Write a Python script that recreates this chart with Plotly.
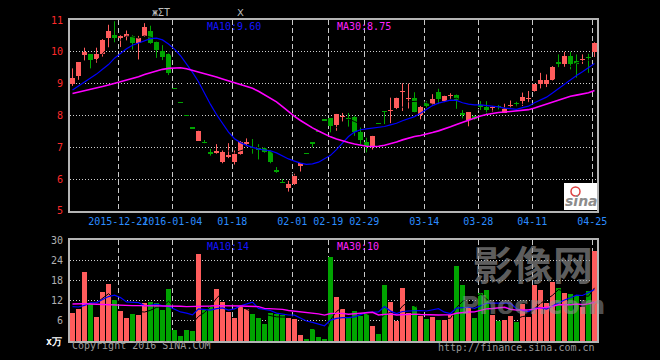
import plotly.graph_objects as go

# ---------------- data ----------------
tick_idx = [8, 17, 27, 37, 43, 49, 59, 68, 77, 87]
tick_labels = ['2015-12-21', '2016-01-04', '01-18', '02-01', '02-19',
               '02-29', '03-14', '03-28', '04-11', '04-25']

opens = [8.98, 9.24, 9.89, 9.92, 9.76, 9.92, 10.42, 10.52, 10.45, 10.46,
         10.51, 10.28, 10.49, 10.67, 10.31, 10.02, 9.92, 8.84, 8.40, 7.99,
         7.59, 7.21, 7.14, 6.86, 6.82, 6.53, 6.70, 6.55, 6.80, 7.12,
         7.01, 6.98, 6.98, 6.87, 6.26, 5.89, 5.72, 5.84, 6.40, 6.79,
         7.12, 7.47, 7.84, 7.91, 7.71, 7.94, 7.92, 7.94, 7.49, 7.17,
         7.00, 7.73, 8.12, 8.15, 8.22, 8.73, 8.52, 8.54, 8.02, 8.40,
         8.35, 8.74, 8.44, 8.60, 8.65, 8.05, 7.86, 7.99, 8.30, 8.28,
         8.24, 8.29, 8.09, 8.31, 8.37, 8.44, 8.52, 8.77, 8.98, 9.00,
         9.13, 9.69, 9.62, 9.86, 9.71, 9.75, 9.82, 10.00]
highs = [9.48, 9.67, 10.13, 9.93, 10.13, 10.40, 10.85, 10.96, 10.52, 10.67,
         10.52, 10.50, 10.90, 10.82, 10.32, 10.21, 9.95, 8.84, 8.40, 7.99,
         7.59, 7.52, 7.23, 6.95, 7.10, 6.90, 7.13, 6.90, 7.20, 7.28,
         7.26, 7.10, 7.00, 6.90, 6.38, 6.00, 5.95, 6.17, 6.50, 6.79,
         7.12, 7.47, 7.84, 7.92, 8.05, 8.08, 8.08, 7.99, 7.62, 7.30,
         7.36, 7.73, 8.12, 8.56, 8.56, 9.01, 9.00, 8.73, 8.30, 8.45,
         8.67, 8.84, 8.62, 8.70, 8.66, 8.17, 8.10, 8.00, 8.45, 8.45,
         8.30, 8.33, 8.37, 8.47, 8.43, 8.72, 8.77, 8.99, 9.34, 9.29,
         9.55, 9.92, 10.00, 10.00, 9.92, 9.92, 9.94, 10.30]
lows = [8.93, 9.12, 9.73, 9.48, 9.66, 9.85, 10.12, 10.30, 10.15, 10.36,
        10.07, 9.76, 10.47, 10.25, 9.81, 9.74, 9.27, 8.84, 8.40, 7.99,
        7.59, 7.20, 7.13, 6.74, 6.80, 6.50, 6.66, 6.46, 6.77, 7.03,
        6.80, 6.62, 6.83, 6.50, 6.20, 5.88, 5.61, 5.82, 6.24, 6.79,
        7.00, 7.47, 7.84, 7.47, 7.52, 7.80, 7.65, 7.36, 7.10, 6.84,
        6.93, 7.73, 7.73, 7.76, 8.20, 8.14, 8.22, 8.10, 7.88, 8.25,
        8.30, 8.35, 8.42, 8.51, 8.21, 7.91, 7.66, 7.86, 8.17, 8.04,
        8.11, 8.18, 8.08, 8.24, 8.28, 8.30, 8.41, 8.75, 8.85, 8.89,
        9.10, 9.52, 9.53, 9.45, 9.19, 9.62, 9.34, 9.84]
closes = [9.19, 9.67, 10.00, 9.74, 9.92, 10.38, 10.64, 10.42, 10.48, 10.55,
          10.28, 10.42, 10.77, 10.28, 10.07, 9.84, 9.32, 8.84, 8.40, 7.99,
          7.59, 7.52, 7.13, 6.78, 6.89, 6.86, 6.77, 6.79, 7.16, 7.14,
          6.99, 6.93, 6.86, 6.53, 6.24, 5.88, 5.84, 6.11, 6.50, 6.79,
          7.12, 7.47, 7.84, 7.68, 8.04, 7.96, 7.90, 7.49, 7.24, 7.03,
          7.36, 7.73, 8.12, 8.18, 8.56, 8.76, 8.55, 8.12, 8.27, 8.31,
          8.51, 8.51, 8.60, 8.62, 8.48, 8.03, 8.10, 7.88, 8.28, 8.18,
          8.26, 8.27, 8.24, 8.33, 8.36, 8.58, 8.55, 8.98, 9.10, 9.10,
          9.53, 9.62, 9.86, 9.62, 9.63, 9.77, 9.80, 10.28]
volumes = [8.4, 9.5, 20.4, 11.0, 7.2, 14.7, 17.0, 12.1, 9.0, 6.9,
           8.0, 7.8, 11.3, 11.6, 11.4, 9.2, 15.5, 3.2, 1.4, 3.2,
           2.9, 25.7, 9.2, 10.2, 15.5, 11.6, 8.7, 6.8, 10.4, 9.5,
           8.0, 6.8, 5.0, 8.2, 7.9, 7.7, 6.9, 6.5, 1.7, 0.7,
           3.7, 1.2, 0.7, 25.1, 13.2, 9.5, 7.0, 8.9, 7.5, 8.0,
           4.4, 2.0, 16.7, 11.6, 6.0, 15.6, 8.4, 10.4, 7.5, 6.5,
           7.2, 6.2, 6.2, 7.7, 22.2, 16.7, 9.7, 6.9, 14.2, 15.2,
           7.7, 6.0, 6.2, 7.5, 5.7, 11.0, 7.2, 16.7, 15.2, 11.4,
           17.4, 15.7, 14.2, 13.9, 13.5, 10.0, 14.9, 26.7]

# moving-average values before enough in-window history exists
ma10_head = [8.80, 8.92, 9.05, 9.18, 9.30, 9.45, 9.60, 9.80, 9.96]
ma30_head = [8.69, 8.73, 8.77, 8.81, 8.86, 8.91, 8.96, 9.01, 9.06, 9.11,
             9.16, 9.22, 9.29, 9.35, 9.40, 9.45, 9.48, 9.50, 9.50, 9.47,
             9.42, 9.38, 9.33, 9.28, 9.21, 9.15, 9.09, 9.04, 8.99]
vma10_head = [10.2, 10.1, 10.6, 11.3, 11.4, 12.3, 13.2, 13.6, 12.9]
vma30_head = [11.0, 11.1, 11.1, 11.0, 10.9, 10.8, 10.7, 10.7, 10.6, 10.6,
              10.5, 10.5, 10.5, 10.4, 10.4, 10.4, 10.4, 10.3, 10.3, 10.2,
              10.2, 10.3, 10.3, 10.4, 10.5, 10.5, 10.6, 10.5, 10.4]


def moving_avg(vals, w, head):
    out = list(head) + [None] * (w - 1 - len(head))
    for i in range(w - 1, len(vals)):
        out.append(sum(vals[i - w + 1:i + 1]) / w)
    return out


n = len(closes)
idx = list(range(n))
ma5 = moving_avg(closes, 5, [])
ma10 = moving_avg(closes, 10, ma10_head)
ma30 = moving_avg(closes, 30, ma30_head)
vma5 = moving_avg(volumes, 5, [])
vma10 = moving_avg(volumes, 10, vma10_head)
vma30 = moving_avg(volumes, 30, vma30_head)

RED = '#ff5c5c'
GREEN = '#00a400'
up = [c > o for o, c in zip(opens, closes)]

fig = go.Figure()

# wicks
for flag, col in ((True, RED), (False, GREEN)):
    wx, wy = [], []
    for i in idx:
        if up[i] == flag:
            wx += [i, i, None]
            wy += [lows[i], highs[i], None]
    fig.add_trace(go.Scatter(x=wx, y=wy, mode='lines', xaxis='x', yaxis='y',
                             line=dict(color=col, width=1), hoverinfo='skip'))

# bodies
for flag, col in ((True, RED), (False, GREEN)):
    bx, bb, bh = [], [], []
    for i in idx:
        if up[i] == flag:
            bx.append(i)
            bb.append(min(opens[i], closes[i]))
            bh.append(max(abs(closes[i] - opens[i]), 0.035))
    fig.add_trace(go.Bar(x=bx, y=bh, base=bb, width=0.83, marker_color=col,
                         marker_line_width=0, xaxis='x', yaxis='y'))

# price MAs
fig.add_trace(go.Scatter(x=idx, y=ma5, mode='lines', line=dict(color='#000000', width=1),
                         xaxis='x', yaxis='y'))
fig.add_trace(go.Scatter(x=idx, y=ma10, mode='lines', line=dict(color='#0000ff', width=1.2),
                         xaxis='x', yaxis='y'))
fig.add_trace(go.Scatter(x=idx, y=ma30, mode='lines', line=dict(color='#ff00ff', width=1.6),
                         xaxis='x', yaxis='y'))

# volume
fig.add_trace(go.Bar(x=idx, y=volumes, width=0.83,
                     marker_color=[RED if u else GREEN for u in up],
                     marker_line_width=0, xaxis='x2', yaxis='y2'))
fig.add_trace(go.Scatter(x=idx, y=vma5, mode='lines', line=dict(color='#000000', width=1),
                         xaxis='x2', yaxis='y2'))
fig.add_trace(go.Scatter(x=idx, y=vma10, mode='lines', line=dict(color='#0000ff', width=1.2),
                         xaxis='x2', yaxis='y2'))
fig.add_trace(go.Scatter(x=idx, y=vma30, mode='lines', line=dict(color='#ff00ff', width=1.4),
                         xaxis='x2', yaxis='y2'))

MONO = 'DejaVu Sans Mono'
BORDER = '#b4b4b4'
tickpos = [t - 0.37 for t in tick_idx]

common_x = dict(range=[-0.4167, 87.4167], tickvals=tickpos, showgrid=True,
                gridcolor='#c8c8c8', griddash='5px,3px', gridwidth=1,
                showline=True, mirror=True, linecolor=BORDER, linewidth=2,
                zeroline=False, ticks='', fixedrange=True, automargin=False,
                tickangle=0)

common_y = dict(showgrid=True, gridcolor='#d0d0d0', griddash='1px,2px',
                showline=True, mirror=True, linecolor=BORDER, linewidth=2,
                zeroline=False, ticks='', ticklabelstandoff=3, automargin=False,
                fixedrange=True)

fig.update_layout(
    width=660, height=360,
    margin=dict(l=70, r=63, t=20, b=19, autoexpand=False),
    paper_bgcolor='#000000', plot_bgcolor='#000000',
    showlegend=False, barmode='overlay', bargap=0, hovermode=False,
    xaxis=dict(domain=[0, 1], anchor='y', ticktext=tick_labels,
               tickfont=dict(family=MONO, size=10, color='#2b8cff'),
               ticklabelstandoff=0, **common_x),
    xaxis2=dict(domain=[0, 1], anchor='y2', matches='x', showticklabels=False, **common_x),
    yaxis=dict(domain=[0.405, 1], anchor='x', range=[5, 11], tickvals=[5, 6, 7, 8, 9, 10, 11],
               tickfont=dict(family=MONO, size=10, color='#ff2a2a'), **common_y),
    yaxis2=dict(domain=[0, 0.3146], anchor='x2', range=[0, 30], tickvals=[6, 12, 18, 24, 30],
                tickfont=dict(family=MONO, size=10, color='#b0b0b0'), **common_y),
)


def px_x(px):
    return (px - 70) / 527


def px_y(py):
    return (341 - py) / 321


ann = []


def text(s, x, y, color, size=10, xanchor='left', family=MONO, **kw):
    ann.append(dict(text=s, x=px_x(x), y=px_y(y), xref='paper', yref='paper',
                    xanchor=xanchor, yanchor='middle', showarrow=False,
                    font=dict(family=family, size=size, color=color), **kw))


text('MA10:9.60', 205, 26, '#1414ff')
text('MA30:8.75', 335, 26, '#ff22ff')
text('MA10:14', 205, 246, '#1414ff')
text('MA30:10', 335, 246, '#ff22ff')
text('Copyright 2016 SINA.COM', 70, 346, '#9a9a9a')
text('http://finance.sina.com.cn', 597, 347, '#9a9a9a', xanchor='right')
text('<b>x万</b>', 64, 342, '#ffffff', size=10, xanchor='right')
text('жΣТ', 161, 12, '#bdbdbd', size=10, xanchor='center')
text('Ⅹ', 240, 12, '#bdbdbd', size=10, xanchor='center')

# watermark of the source picture
text('<b>影像网</b>', 533, 263, 'rgba(150,150,150,0.65)', size=40, xanchor='center',
     family='Noto Sans CJK SC')
text('<b>Phocr.com</b>', 533, 305, 'rgba(150,150,150,0.55)', size=25, xanchor='center',
     family='DejaVu Sans')

# sina logo box
fig.add_shape(type='rect', xref='paper', yref='paper', x0=px_x(564), x1=px_x(597),
              y0=px_y(210), y1=px_y(183), fillcolor='#ffffff', line_width=0, layer='above')
fig.add_shape(type='circle', xref='paper', yref='paper', x0=px_x(571), x1=px_x(580),
              y0=px_y(196), y1=px_y(187), fillcolor='rgba(0,0,0,0)',
              line=dict(color='#e04040', width=1.5), layer='above')
text('<i><b>sina</b></i>', 581, 201, '#8c8c8c', size=14, xanchor='center', family='DejaVu Sans')

fig.update_layout(annotations=ann)

fig.write_html('out.html', config={'displayModeBar': False, 'staticPlot': True},
               post_script="document.body.style.margin='0';"
                           "document.body.style.background='#000';"
                           "document.body.style.overflow='hidden';")
